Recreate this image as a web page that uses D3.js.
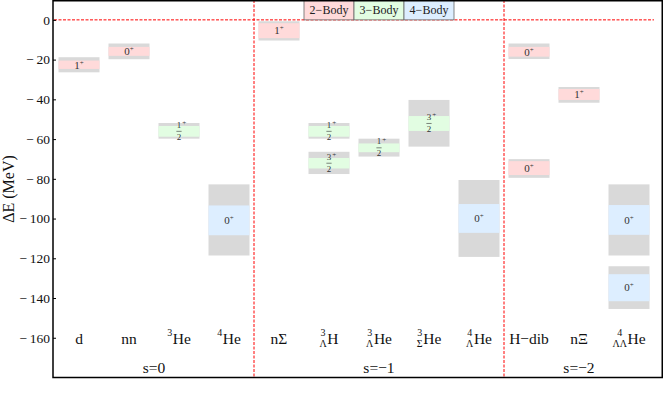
<!DOCTYPE html>
<html><head><meta charset="utf-8">
<script src="https://cdn.jsdelivr.net/npm/d3@7"></script>
<style>body{margin:0;background:#fff}svg{display:block}</style>
</head><body>
<script>
// ---- data ----
const catMain = ["d","nn","He","He","nΣ","H","He","He","He","H−dib","nΞ","He"];
const catSup  = ["","","3","4","","3","3","3","4","","","4"];
const catSub  = ["","","","","","Λ","Λ","Σ","Λ","","","ΛΛ"];
const groupLabels = ["s=0","s=−1","s=−2"];
const groupFirst = [1,5,10];
const groupLast  = [4,9,12];
const bodyLabels = ["2−Body","3−Body","4−Body"];
const bodyKeys = [2,3,4];
const yTicks = [0,-20,-40,-60,-80,-100,-120,-140,-160];

const stateCat   = [1,2,3,4,5,6,6,7,8,9,10,10,11,12,12];
const stateJ     = ["1+","0+","1/2+","0+","1+","1/2+","3/2+","1/2+","3/2+","0+","0+","0+","1+","0+","0+"];
const stateBody  = [2,2,3,4,2,3,3,3,3,4,2,2,2,4,4];
const rangeHi    = [-18.8,-11.9,-51.9,-82.8,-0.7,-51.9,-66.4,-59.8,-40.3,-80.6,-11.9,-70.1,-33.8,-82.8,-124.0];
const rangeLo    = [-26.4,-19.8,-59.8,-118.6,-10.4,-59.8,-77.6,-68.8,-63.8,-119.3,-19.7,-79.5,-41.7,-118.6,-145.5];
const centralHi  = [-20.5,-13.6,-53.4,-93.4,-1.7,-53.4,-69.5,-62.2,-48.4,-92.7,-13.6,-71.1,-34.8,-93.2,-128.0];
const centralLo  = [-24.7,-18.1,-58.8,-108.4,-9.2,-58.8,-74.8,-66.6,-55.9,-107.2,-18.5,-78.1,-40.3,-108.2,-141.6];

// ---- setup ----
const W = 664, H = 396;
const svg = d3.select("body").append("svg").attr("width", W).attr("height", H)
  .style("font-family", "'Liberation Serif','Times New Roman',serif");
const x = d3.scaleLinear().domain([0.48, 12.68]).range([53, 663]);
const y = d3.scaleLinear().domain([-180, 10]).range([377.5, 0]);
const bodyColor = d3.scaleOrdinal().domain(bodyKeys).range(["#ffdada","#e2fde2","#ddeeff"]);
const halfW = 0.41;
const states = stateCat.map((c,i)=>({c, j:stateJ[i], b:stateBody[i], rh:rangeHi[i], rl:rangeLo[i], ch:centralHi[i], cl:centralLo[i]}));

// boxes
const gBox = svg.append("g");
gBox.selectAll("rect.range").data(states).join("rect")
  .attr("x", d=>x(d.c-halfW)).attr("width", d=>x(d.c+halfW)-x(d.c-halfW))
  .attr("y", d=>y(d.rh)).attr("height", d=>y(d.rl)-y(d.rh))
  .attr("fill", "#d9d9d9");
gBox.selectAll("rect.central").data(states).join("rect")
  .attr("x", d=>x(d.c-halfW)).attr("width", d=>x(d.c+halfW)-x(d.c-halfW))
  .attr("y", d=>y(d.ch)).attr("height", d=>y(d.cl)-y(d.ch))
  .attr("fill", d=>bodyColor(d.b));

// state labels
states.forEach(d=>{
  const cx = x(d.c), cy = (y(d.ch)+y(d.cl))/2;
  const g = svg.append("g").attr("fill","#333");
  if (d.j.includes("/")) {
    const num = d.j.split("/")[0], den = d.j.split("/")[1].replace("+","");
    g.append("text").attr("x", cx).attr("y", cy-3.5).attr("text-anchor","middle").attr("font-size",9).text(num);
    g.append("text").attr("x", cx+3.2).attr("y", cy-6).attr("font-size",7).text("+");
    g.append("line").attr("x1", cx-2.6).attr("x2", cx+2.6).attr("y1", cy).attr("y2", cy).attr("stroke","#333").attr("stroke-width",0.6);
    g.append("text").attr("x", cx).attr("y", cy+8.5).attr("text-anchor","middle").attr("font-size",9).text(den);
  } else {
    const t = g.append("text").attr("x", cx).attr("y", cy+3.8).attr("text-anchor","middle").attr("font-size",11);
    t.append("tspan").text(d.j.replace("+",""));
    t.append("tspan").attr("font-size",7).attr("dy",-4).text("+");
  }
});

// red dashed reference lines
svg.append("line").attr("x1", x(0.5)).attr("x2", x(12.5)).attr("y1", y(0)).attr("y2", y(0))
  .attr("stroke","#ff0000").attr("stroke-width",1).attr("stroke-dasharray","3,1.5");
[groupLast[0]+0.5, groupLast[1]+0.5].forEach(v=>{
  svg.append("line").attr("x1", x(v)).attr("x2", x(v)).attr("y1", y(10)).attr("y2", y(-180))
    .attr("stroke","#ff0000").attr("stroke-width",1).attr("stroke-dasharray","3,1.5");
});

// legend
const legCols = [6,7,8];
bodyLabels.forEach((lab,i)=>{
  const c = legCols[i];
  svg.append("rect").attr("x", x(c-0.5)).attr("width", x(c+0.5)-x(c-0.5))
    .attr("y", y(10)).attr("height", y(0)-y(10))
    .attr("fill", bodyColor(bodyKeys[i])).attr("stroke","#666").attr("stroke-width",0.8);
  svg.append("text").attr("x", x(c)).attr("y", y(5)+4.3).attr("text-anchor","middle")
    .attr("font-size",12).attr("fill","#222").text(lab);
});

// y axis
const yAxis = d3.axisLeft(y).tickValues(yTicks).tickSize(-3).tickPadding(3)
  .tickFormat(d => d < 0 ? "−\u2009" + (-d) : String(d));
const ga = svg.append("g").attr("transform", `translate(${x(0.48)},0)`).call(yAxis);
ga.select(".domain").remove();
ga.selectAll(".tick line").attr("stroke","#000").attr("stroke-width",1);
ga.selectAll(".tick text").attr("font-size",13.5).attr("fill","#111")
  .style("font-family","'Liberation Serif',serif");

svg.append("text").attr("transform", `translate(14,189) rotate(-90)`).attr("text-anchor","middle")
  .attr("font-size",16).attr("fill","#111").text("ΔE (MeV)");

// category labels
const baseY = 343.5;
catMain.forEach((m,i)=>{
  const v = i+1;
  const g = svg.append("g").attr("transform", `translate(${x(v)},${baseY})`).attr("fill","#111");
  const sup = catSup[i], sub = catSub[i];
  const mt = g.append("text").attr("font-size",15.5).text(m);
  const mw = mt.node().getComputedTextLength();
  let pw = 0, st=null, bt=null;
  if (sup) { st = g.append("text").attr("font-size",10).attr("text-anchor","middle").attr("y",-7.5).text(sup); pw = Math.max(pw, st.node().getComputedTextLength()); }
  if (sub) { bt = g.append("text").attr("font-size",10).attr("text-anchor","middle").attr("y",3.5).text(sub); pw = Math.max(pw, bt.node().getComputedTextLength()); }
  const gap = pw>0 ? 0.6 : 0;
  const total = pw + gap + mw;
  const start = -total/2;
  if (st) st.attr("x", start + pw/2);
  if (bt) bt.attr("x", start + pw/2);
  mt.attr("x", start + pw + gap);
});

// group labels
groupLabels.forEach((lab,i)=>{
  svg.append("text").attr("x", x((groupFirst[i]+groupLast[i])/2)).attr("y", 372.5)
    .attr("text-anchor","middle").attr("font-size",15.5).attr("fill","#111").text(lab);
});

// frame
svg.append("rect").attr("x", x(0.48)).attr("y", 0.75).attr("width", x(12.68)-x(0.48)-0.75).attr("height", y(-180)-0.75)
  .attr("fill","none").attr("stroke","#000").attr("stroke-width",1.5);
</script>
</body></html>
